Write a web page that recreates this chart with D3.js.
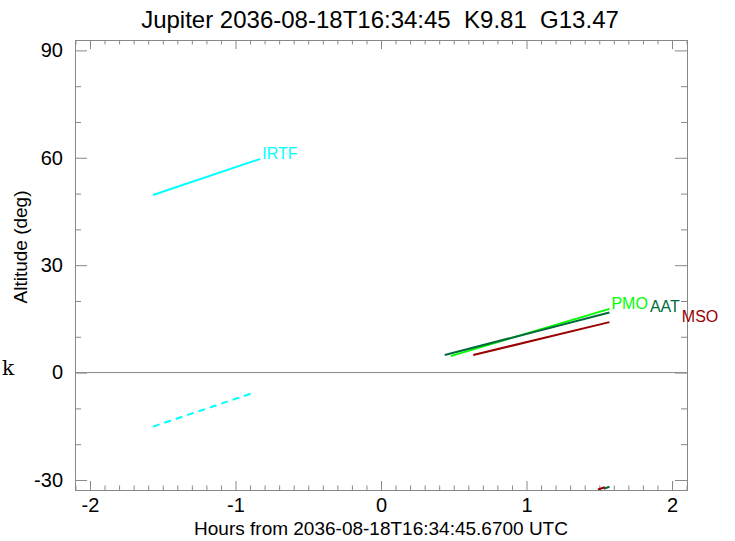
<!DOCTYPE html>
<html>
<head>
<meta charset="utf-8">
<script src="https://cdn.jsdelivr.net/npm/d3@7"></script>
<style>
  body { margin: 0; background: #fff; }
  svg { display: block; font-family: "Liberation Sans", Arial, sans-serif; }
</style>
</head>
<body>
<div class="item"></div>
<script>
// 观测站名称与颜色
var sites = ["IRTF", "PMO", "AAT", "MSO"];
var siteColors = ["#00ffff", "#00ff00", "#006a3c", "#9a0000"];

// 实线：高度角（起点/终点）
var solidStartHour = [-1.567, 0.479, 0.438, 0.634];
var solidEndHour   = [-0.830, 1.570, 1.570, 1.570];
var solidStartAlt  = [49.6, 4.6, 4.9, 4.9];
var solidEndAlt    = [59.7, 17.8, 16.8, 14.1];

// 虚线（null = 不画）
var dashStartHour = [-1.567, null, 0.438, 0.634];
var dashEndHour   = [-0.866, null, 1.570, 1.570];
var dashStartAlt  = [-15.1, null, -47.6, -44.6];
var dashEndAlt    = [-5.5, null, -31.9, -31.6];

// 刻度
var xMajor = [-2, -1, 0, 1, 2];
var yMajor = [-30, 0, 30, 60, 90];

var titleText = "Jupiter 2036-08-18T16:34:45  K9.81  G13.47";
var xTitle = "Hours from 2036-08-18T16:34:45.6700 UTC";
var yTitle = "Altitude (deg)";

var width = 735;
var height = 541;
var margin = {left: 75, right: 48, top: 40, bottom: 51};
var plotW = width - margin.left - margin.right;
var plotH = height - margin.top - margin.bottom;
var axisColor = "#888888";

var svg = d3.select(".item")
    .append("svg")
    .attr("width", width)
    .attr("height", height);

var x = d3.scaleLinear().domain([-2.103, 2.103]).range([0, plotW]);
var y = d3.scaleLinear().domain([-32.8, 92.9]).range([plotH, 0]);

var xMinor = d3.range(-21, 22).map(function(d){ return d / 10; })
    .filter(function(d){ return xMajor.indexOf(d) < 0; });
var yMinor = d3.range(-30, 91, 10).filter(function(d){ return yMajor.indexOf(d) < 0; });

var g = svg.append("g")
    .attr("transform", "translate(" + margin.left + "," + margin.top + ")");

svg.append("defs").append("clipPath").attr("id", "clip")
    .append("rect").attr("width", plotW).attr("height", plotH);

// 坐标轴
function styleAxis(sel, showText) {
    sel.selectAll("path.domain").attr("stroke", axisColor);
    sel.selectAll("line").attr("stroke", axisColor);
    sel.selectAll("text")
        .attr("fill", "#000")
        .style("font-size", "20px")
        .style("display", showText ? null : "none");
    sel.attr("font-family", null).attr("font-size", null);
}

var plain = function(d){ return String(d); };   // 用普通连字符作负号
var xTickLen = 9, yTickLen = 12;

g.append("g").attr("transform", "translate(0," + plotH + ")")
    .call(d3.axisBottom(x).tickValues(xMajor).tickSize(-xTickLen).tickPadding(8).tickSizeOuter(0)
        .tickFormat(plain))
    .call(styleAxis, true);
g.append("g").attr("transform", "translate(0," + plotH + ")")
    .call(d3.axisBottom(x).tickValues(xMinor).tickSize(-xTickLen / 2).tickSizeOuter(0))
    .call(styleAxis, false);
g.append("g")
    .call(d3.axisTop(x).tickValues(xMajor).tickSize(-xTickLen).tickSizeOuter(0))
    .call(styleAxis, false);
g.append("g")
    .call(d3.axisTop(x).tickValues(xMinor).tickSize(-xTickLen / 2).tickSizeOuter(0))
    .call(styleAxis, false);

g.append("g")
    .call(d3.axisLeft(y).tickValues(yMajor).tickSize(-yTickLen).tickPadding(12).tickSizeOuter(0)
        .tickFormat(plain))
    .call(styleAxis, true);
g.append("g")
    .call(d3.axisLeft(y).tickValues(yMinor).tickSize(-yTickLen / 2).tickSizeOuter(0))
    .call(styleAxis, false);
g.append("g").attr("transform", "translate(" + plotW + ",0)")
    .call(d3.axisRight(y).tickValues(yMajor).tickSize(-yTickLen).tickSizeOuter(0))
    .call(styleAxis, false);
g.append("g").attr("transform", "translate(" + plotW + ",0)")
    .call(d3.axisRight(y).tickValues(yMinor).tickSize(-yTickLen / 2).tickSizeOuter(0))
    .call(styleAxis, false);

// 0 度地平线
g.append("line")
    .attr("x1", 0).attr("x2", plotW)
    .attr("y1", y(0)).attr("y2", y(0))
    .attr("stroke", axisColor);

// 曲线
var lines = g.append("g").attr("clip-path", "url(#clip)");

sites.forEach(function(s, i){
    if (dashStartHour[i] === null) return;
    lines.append("line")
        .attr("x1", x(dashStartHour[i])).attr("y1", y(dashStartAlt[i]))
        .attr("x2", x(dashEndHour[i])).attr("y2", y(dashEndAlt[i]))
        .attr("stroke", siteColors[i])
        .attr("stroke-width", 2)
        .attr("stroke-dasharray", "7,5");
});

sites.forEach(function(s, i){
    lines.append("line")
        .attr("x1", x(solidStartHour[i])).attr("y1", y(solidStartAlt[i]))
        .attr("x2", x(solidEndHour[i])).attr("y2", y(solidEndAlt[i]))
        .attr("stroke", siteColors[i])
        .attr("stroke-width", 2);
});

// 站名标签（重叠时向右错开）
var placed = [];
sites.forEach(function(s, i){
    var lx = x(solidEndHour[i]) + 2;
    var ly = y(solidEndAlt[i]);
    placed.forEach(function(p){
        if (Math.abs(p.y - ly) < 14 && lx < p.right) lx = p.right + 2;
    });
    var t = g.append("text")
        .attr("x", lx).attr("y", ly)
        .attr("fill", siteColors[i])
        .style("font-size", "16px")
        .text(s);
    placed.push({y: ly, right: lx + t.node().getComputedTextLength()});
});

// 标题
svg.append("text")
    .attr("x", 380).attr("y", 28)
    .attr("text-anchor", "middle")
    .style("font-size", "24px")
    .style("white-space", "pre")
    .text(titleText);

svg.append("text")
    .attr("x", margin.left + plotW / 2).attr("y", 535)
    .attr("text-anchor", "middle")
    .style("font-size", "19px")
    .text(xTitle);

svg.append("text")
    .attr("transform", "translate(27,247) rotate(-90)")
    .attr("text-anchor", "middle")
    .style("font-size", "19px")
    .text(yTitle);

svg.append("text")
    .attr("x", 2).attr("y", 375)
    .style("font-family", "'DejaVu Serif', serif")
    .style("font-size", "20px")
    .text("k");
</script>
</body>
</html>
